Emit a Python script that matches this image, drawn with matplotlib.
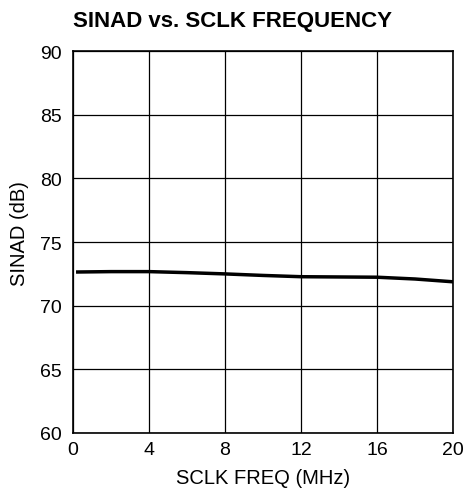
import matplotlib as mpl
mpl.use('Agg')
from matplotlib import pyplot as plt

plt.rcParams['font.family'] = ['Liberation Sans', 'DejaVu Sans']

# SINAD vs SCLK frequency
freq = [0.25, 2, 4, 6, 8, 10, 12, 14, 16, 18, 20]
sinad = [72.65, 72.68, 72.68, 72.6, 72.5, 72.38, 72.28, 72.26, 72.24, 72.1, 71.88]

xticks = [0, 4, 8, 12, 16, 20]
yticks = [60, 65, 70, 75, 80, 85, 90]

fig = plt.figure(figsize=(4.68, 5.02), dpi=100)
ax = fig.add_axes([0.156, 0.1355, 0.812, 0.7605])

ax.plot(freq, sinad, color='black', linewidth=2.5)

ax.set_xlim(0, 20)
ax.set_ylim(60, 90)
ax.set_xticks(xticks)
ax.set_yticks(yticks)
ax.grid(True, color='black', linewidth=0.9)
ax.tick_params(length=0, labelsize=14)
ax.tick_params(axis='y', pad=8)
ax.tick_params(axis='x', pad=6)
for s in ax.spines.values():
    s.set_linewidth(1.2)

ax.set_xlabel("SCLK FREQ (MHz)", fontsize=14.5, labelpad=7)
ax.set_ylabel("SINAD (dB)", fontsize=14.5)
ax.yaxis.set_label_coords(-0.116, 0.525)
ax.set_title("SINAD vs. SCLK FREQUENCY", fontsize=16, fontweight='bold', loc='left', pad=18)

plt.savefig("out.png")
